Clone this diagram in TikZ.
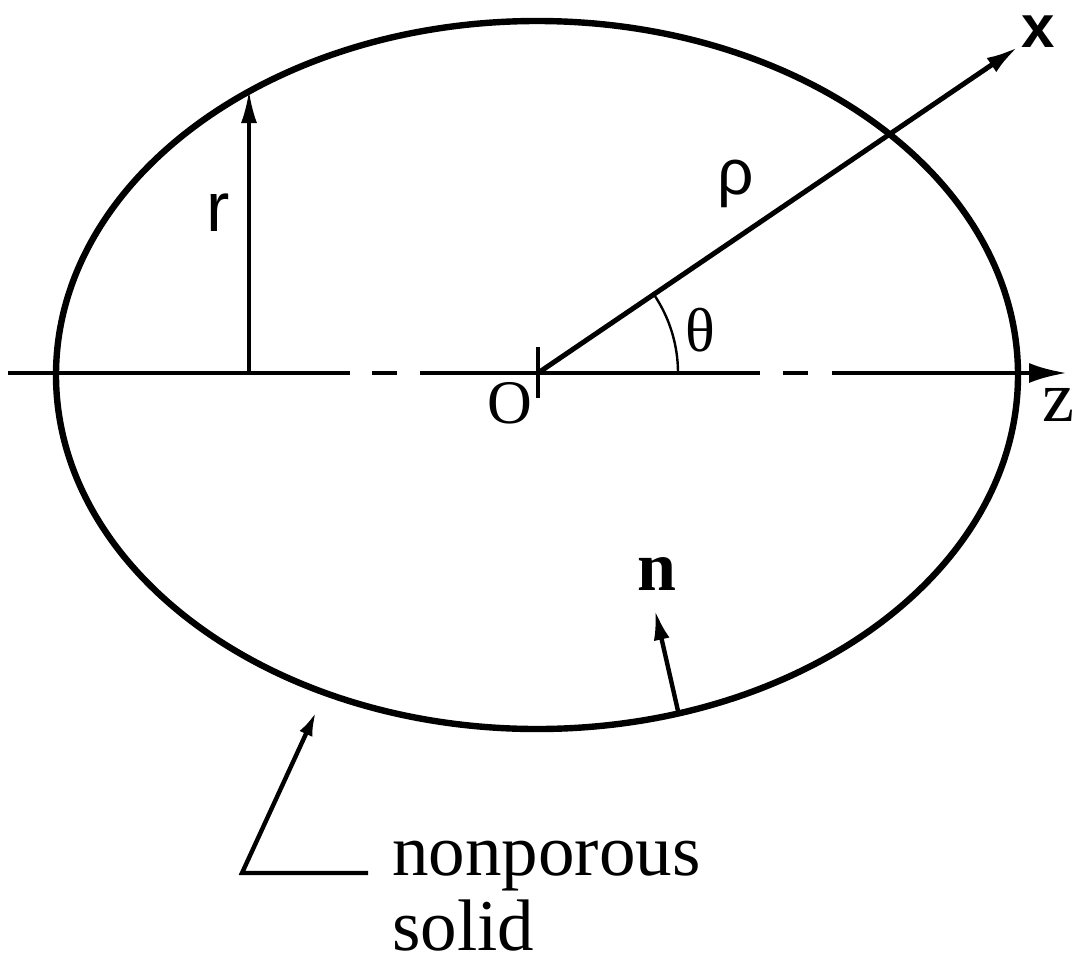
\documentclass[tikz,border=0pt]{standalone}
\usepackage{fontspec}
\setmainfont{Liberation Serif}
\newfontfamily\labsans{Liberation Sans}
\usetikzlibrary{arrows.meta,calc}

\begin{document}
\begin{tikzpicture}[x=0.5pt,y=-0.5pt,
  body/.style={line width=3.2pt},
  ax/.style={line width=2.3pt},
  f/.style={-{Latex[length=16pt,width=8pt]},line width=1.6pt},
  lab/.style={inner sep=0pt},
  big/.style={font=\fontsize{36.5}{40}\selectfont}]
\useasboundingbox (0,0) rectangle (1074,969);
\coordinate (C) at (537,375);
\coordinate (O) at (538,373);
\draw[body] (C) ellipse [x radius=481,y radius=354];
% z axis, broken twice on each side
\foreach \a/\b in {8/350,372/397,420/760,783/808}
  \draw[ax] (\a,373) -- (\b,373);
\coordinate (zend) at (1067,373);
\draw[ax,-{Latex[length=19pt,width=10pt]}] (832,373) -- (zend);
\draw[line width=1.6pt] ($(O)+(0,-26)$) -- ($(O)+(0,25)$);
% radius r
\coordinate (rfoot) at (249,373);
\coordinate (rtop) at (249,91);
\draw[f] (rfoot) -- (rtop);
% ray and angle
\coordinate (xend) at (1018,47);
\draw[line width=2.5pt,-{Latex[length=16pt,width=8.5pt]}] (O) -- (xend);
\draw[line width=1.2pt] ($(O)+(140,0)$) arc[start angle=0,end angle=-34.2,radius=140];
\node[lab,font=\labsans\fontsize{35}{40}\selectfont] (r) at (218,213) {r};
\node[lab,font=\labsans\fontsize{32}{36}\selectfont] (rho) at (736,184) {ρ};
\node[lab,font=\fontsize{31}{36}\selectfont] (theta) at (700,330) {θ};
\node[lab,font=\fontsize{31}{36}\selectfont] (o) at (510,403) {O};
\node[lab,font=\fontsize{36}{40}\selectfont] (z) at (1058,405) {z};
\node[lab,font=\labsans\bfseries\fontsize{30}{34}\selectfont] (x) at (1038,32) {x};
% normal
\node[lab,font=\bfseries\fontsize{35}{40}\selectfont] (n) at (657,574) {n};
\coordinate (nfoot) at (678,711);
\coordinate (ntip) at (655,610);
\draw[line width=2.2pt,-{Latex[length=15pt,width=8pt]}] (nfoot) -- (ntip);
% leader to the wall
\node[lab,big,anchor=base west] (np) at (392,875) {nonporous};
\node[lab,big,anchor=base west] (sd) at (392,950) {solid};
\coordinate (ltip) at (316,712);
\coordinate (lcorner) at (242,873);
\coordinate (lend) at (368,873);
\draw[line width=2.2pt,-{Latex[length=12pt,width=7pt]}] (lend) -- (lcorner) -- (ltip);
\end{tikzpicture}
\end{document}
